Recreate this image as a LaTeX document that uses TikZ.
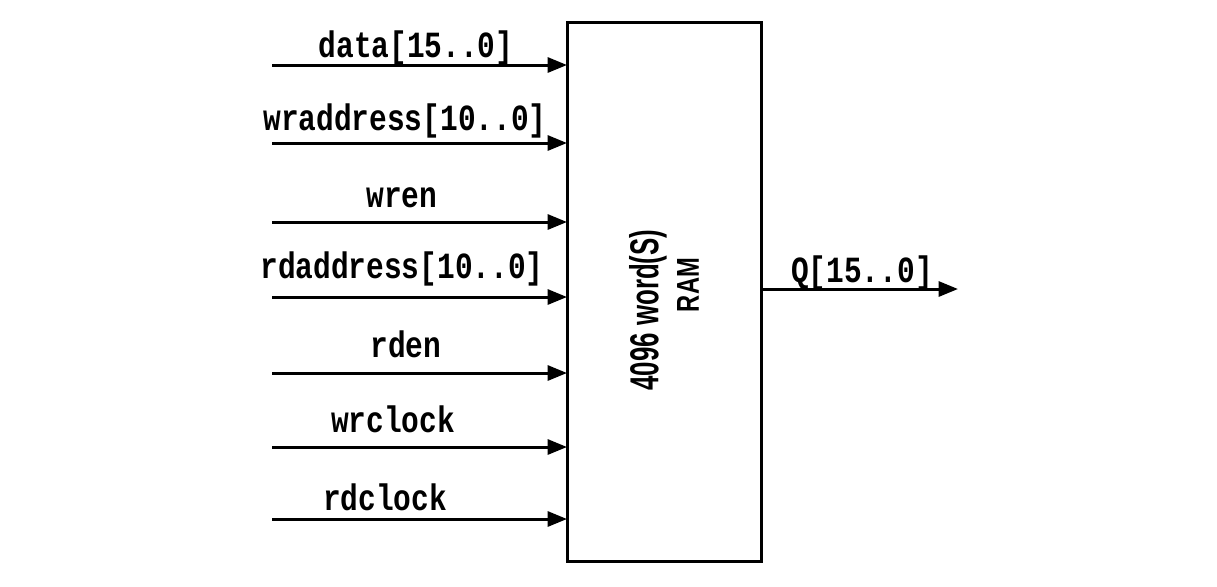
\documentclass[tikz,border=0pt]{standalone}
\usepackage{fontspec}
\usepackage{graphicx}
\usetikzlibrary{arrows.meta}
\newfontfamily\sigfont{Liberation Mono}
\newfontfamily\boxfont{Liberation Sans}
\newcommand\sigtxt[1]{\scalebox{0.8}[1]{\sigfont\bfseries\fontsize{21}{24}\selectfont #1}}
\tikzset{
  sig/.style={line width=1.7pt, -{Triangle[length=11pt,width=8.5pt]}},
  siglabel/.style={anchor=base, inner sep=0pt},
  rambox/.style={draw, line width=1.7pt, inner sep=0pt, outer sep=0pt,
    minimum width=3.9cm, minimum height=10.8cm},
}
\begin{document}
\begin{tikzpicture}[x=0.02cm, y=-0.02cm]
\useasboundingbox (0,0) rectangle (1217,586);
\node[rambox] (ram) at (664.5,292) {};
\node[rotate=90, inner sep=0pt] (t1) at (648,310)
  {\scalebox{0.64}[1]{\boxfont\bfseries\fontsize{23}{26}\selectfont 4096 word(S)}};
\node[rotate=90, inner sep=0pt] (t2) at (688,285)
  {\scalebox{0.75}[1]{\boxfont\bfseries\fontsize{18}{20}\selectfont RAM}};

\coordinate (s1) at (272,65);
\coordinate (s2) at (272,143);
\coordinate (s3) at (272,222);
\coordinate (s4) at (272,297);
\coordinate (s5) at (272,373);
\coordinate (s6) at (272,447);
\coordinate (s7) at (272,519);
\coordinate (o) at (958,289);

\draw[sig] (s1) -- (s1 -| ram.west);
\draw[sig] (s2) -- (s2 -| ram.west);
\draw[sig] (s3) -- (s3 -| ram.west);
\draw[sig] (s4) -- (s4 -| ram.west);
\draw[sig] (s5) -- (s5 -| ram.west);
\draw[sig] (s6) -- (s6 -| ram.west);
\draw[sig] (s7) -- (s7 -| ram.west);
\draw[sig] (o -| ram.east) -- (o);

\node[siglabel] (l1) at (416,57) {\sigtxt{data[15..0]}};
\node[siglabel] (l2) at (405,130) {\sigtxt{wraddress[10..0]}};
\node[siglabel] (l3) at (402,207) {\sigtxt{wren}};
\node[siglabel] (l4) at (402,278) {\sigtxt{rdaddress[10..0]}};
\node[siglabel] (l5) at (406,357) {\sigtxt{rden}};
\node[siglabel] (l6) at (393,432) {\sigtxt{wrclock}};
\node[siglabel] (l7) at (385,510) {\sigtxt{rdclock}};
\node[siglabel] (lq) at (862,282) {\sigtxt{Q[15..0]}};
\end{tikzpicture}
\end{document}
